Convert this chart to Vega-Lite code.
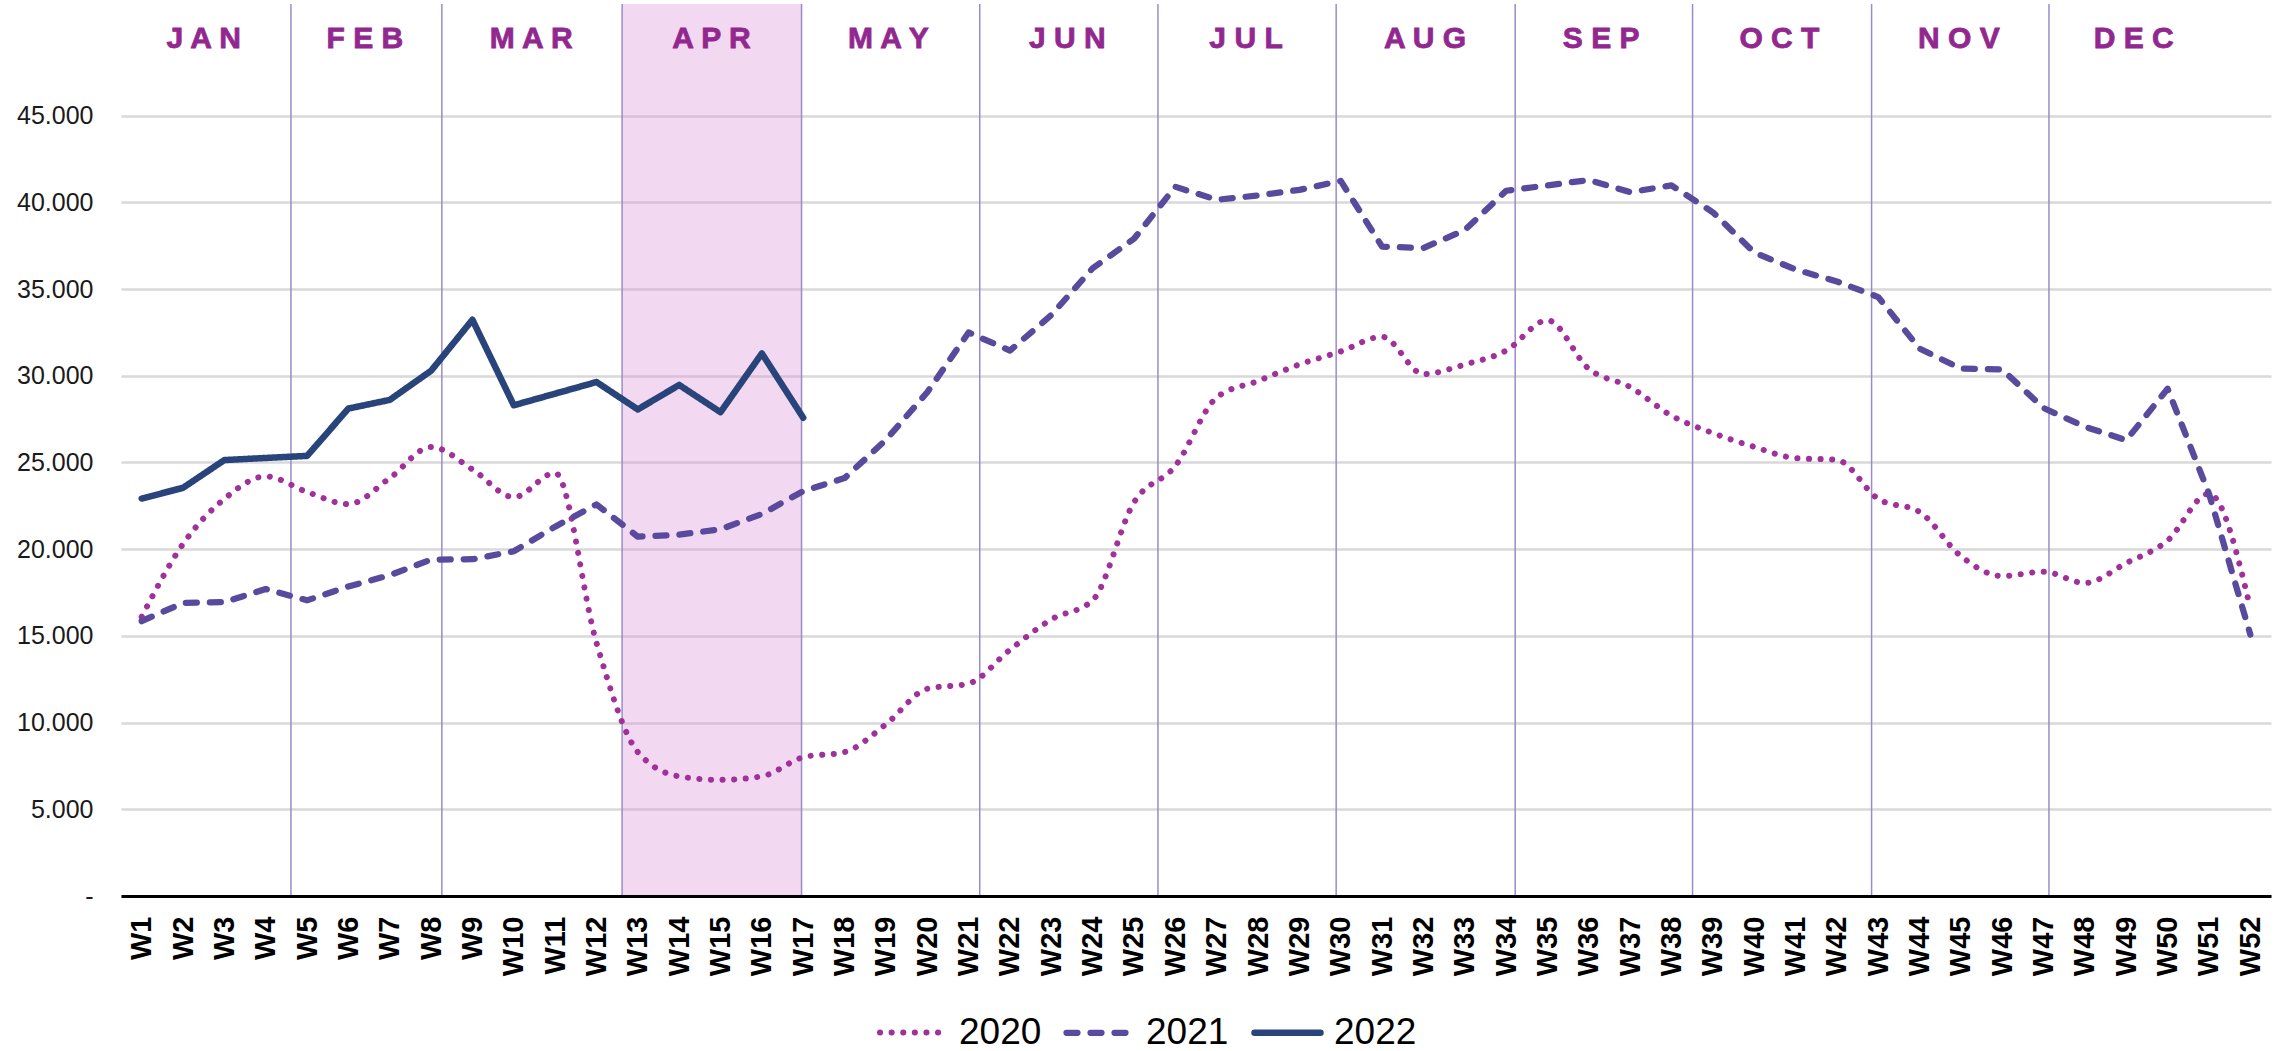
{
  "$schema": "https://vega.github.io/schema/vega-lite/v6.json",
  "width": 2150,
  "height": 892,
  "autosize": {"type": "none"},
  "padding": {"left": 121, "top": 4, "right": 9, "bottom": 155},
  "background": "white",
  "config": {"view": {"stroke": null}, "font": "Liberation Sans"},
  "datasets": {
    "months": [
      {"month": "J A N", "start": 0.5, "end": 4.61, "mid": 2.5, "highlight": false},
      {"month": "F E B", "start": 4.61, "end": 8.26, "mid": 6.4, "highlight": false},
      {"month": "M A R", "start": 8.26, "end": 12.62, "mid": 10.42, "highlight": false},
      {"month": "A P R", "start": 12.62, "end": 16.96, "mid": 14.78, "highlight": true},
      {"month": "M A Y", "start": 16.96, "end": 21.27, "mid": 19.06, "highlight": false},
      {"month": "J U N", "start": 21.27, "end": 25.58, "mid": 23.39, "highlight": false},
      {"month": "J U L", "start": 25.58, "end": 29.89, "mid": 27.71, "highlight": false},
      {"month": "A U G", "start": 29.89, "end": 34.22, "mid": 32.04, "highlight": false},
      {"month": "S E P", "start": 34.22, "end": 38.51, "mid": 36.3, "highlight": false},
      {"month": "O C T", "start": 38.51, "end": 42.84, "mid": 40.61, "highlight": false},
      {"month": "N O V", "start": 42.84, "end": 47.13, "mid": 44.95, "highlight": false},
      {"month": "D E C", "start": 47.13, "end": 52.5, "mid": 49.18, "highlight": false}
    ],
    "weeks": [
      {"week": 1, "year": "2020", "value": 16100},
      {"week": 2, "year": "2020", "value": 20300},
      {"week": 3, "year": "2020", "value": 22900},
      {"week": 4, "year": "2020", "value": 24200},
      {"week": 5, "year": "2020", "value": 23300},
      {"week": 6, "year": "2020", "value": 22600},
      {"week": 7, "year": "2020", "value": 24100},
      {"week": 8, "year": "2020", "value": 25900},
      {"week": 9, "year": "2020", "value": 24600},
      {"week": 10, "year": "2020", "value": 23000},
      {"week": 11, "year": "2020", "value": 24400},
      {"week": 12, "year": "2020", "value": 14600},
      {"week": 13, "year": "2020", "value": 8300},
      {"week": 14, "year": "2020", "value": 6900},
      {"week": 15, "year": "2020", "value": 6700},
      {"week": 16, "year": "2020", "value": 6900},
      {"week": 17, "year": "2020", "value": 8000},
      {"week": 18, "year": "2020", "value": 8300},
      {"week": 19, "year": "2020", "value": 9900},
      {"week": 20, "year": "2020", "value": 11950},
      {"week": 21, "year": "2020", "value": 12250},
      {"week": 22, "year": "2020", "value": 14200},
      {"week": 23, "year": "2020", "value": 15950},
      {"week": 24, "year": "2020", "value": 17050},
      {"week": 25, "year": "2020", "value": 22700},
      {"week": 26, "year": "2020", "value": 24800},
      {"week": 27, "year": "2020", "value": 28750},
      {"week": 28, "year": "2020", "value": 29700},
      {"week": 29, "year": "2020", "value": 30650},
      {"week": 30, "year": "2020", "value": 31400},
      {"week": 31, "year": "2020", "value": 32250},
      {"week": 32, "year": "2020", "value": 30100},
      {"week": 33, "year": "2020", "value": 30650},
      {"week": 34, "year": "2020", "value": 31450},
      {"week": 35, "year": "2020", "value": 33200},
      {"week": 36, "year": "2020", "value": 30400},
      {"week": 37, "year": "2020", "value": 29350},
      {"week": 38, "year": "2020", "value": 27700},
      {"week": 39, "year": "2020", "value": 26700},
      {"week": 40, "year": "2020", "value": 25900},
      {"week": 41, "year": "2020", "value": 25250},
      {"week": 42, "year": "2020", "value": 25150},
      {"week": 43, "year": "2020", "value": 22900},
      {"week": 44, "year": "2020", "value": 22150},
      {"week": 45, "year": "2020", "value": 19600},
      {"week": 46, "year": "2020", "value": 18450},
      {"week": 47, "year": "2020", "value": 18700},
      {"week": 48, "year": "2020", "value": 18050},
      {"week": 49, "year": "2020", "value": 19200},
      {"week": 50, "year": "2020", "value": 20500},
      {"week": 51, "year": "2020", "value": 23200},
      {"week": 52, "year": "2020", "value": 16600},
      {"week": 1, "year": "2021", "value": 15850},
      {"week": 2, "year": "2021", "value": 16900},
      {"week": 3, "year": "2021", "value": 16950},
      {"week": 4, "year": "2021", "value": 17700},
      {"week": 5, "year": "2021", "value": 17050},
      {"week": 6, "year": "2021", "value": 17850},
      {"week": 7, "year": "2021", "value": 18500},
      {"week": 8, "year": "2021", "value": 19400},
      {"week": 9, "year": "2021", "value": 19420},
      {"week": 10, "year": "2021", "value": 19880},
      {"week": 11, "year": "2021", "value": 21300},
      {"week": 12, "year": "2021", "value": 22580},
      {"week": 13, "year": "2021", "value": 20720},
      {"week": 14, "year": "2021", "value": 20840},
      {"week": 15, "year": "2021", "value": 21150},
      {"week": 16, "year": "2021", "value": 22030},
      {"week": 17, "year": "2021", "value": 23350},
      {"week": 18, "year": "2021", "value": 24100},
      {"week": 19, "year": "2021", "value": 26300},
      {"week": 20, "year": "2021", "value": 29050},
      {"week": 21, "year": "2021", "value": 32500},
      {"week": 22, "year": "2021", "value": 31450},
      {"week": 23, "year": "2021", "value": 33500},
      {"week": 24, "year": "2021", "value": 36200},
      {"week": 25, "year": "2021", "value": 37900},
      {"week": 26, "year": "2021", "value": 40900},
      {"week": 27, "year": "2021", "value": 40150},
      {"week": 28, "year": "2021", "value": 40400},
      {"week": 29, "year": "2021", "value": 40720},
      {"week": 30, "year": "2021", "value": 41240},
      {"week": 31, "year": "2021", "value": 37450},
      {"week": 32, "year": "2021", "value": 37370},
      {"week": 33, "year": "2021", "value": 38400},
      {"week": 34, "year": "2021", "value": 40670},
      {"week": 35, "year": "2021", "value": 40980},
      {"week": 36, "year": "2021", "value": 41290},
      {"week": 37, "year": "2021", "value": 40590},
      {"week": 38, "year": "2021", "value": 40980},
      {"week": 39, "year": "2021", "value": 39430},
      {"week": 40, "year": "2021", "value": 37110},
      {"week": 41, "year": "2021", "value": 36130},
      {"week": 42, "year": "2021", "value": 35440},
      {"week": 43, "year": "2021", "value": 34540},
      {"week": 44, "year": "2021", "value": 31570},
      {"week": 45, "year": "2021", "value": 30410},
      {"week": 46, "year": "2021", "value": 30360},
      {"week": 47, "year": "2021", "value": 28140},
      {"week": 48, "year": "2021", "value": 27060},
      {"week": 49, "year": "2021", "value": 26290},
      {"week": 50, "year": "2021", "value": 29250},
      {"week": 51, "year": "2021", "value": 23200},
      {"week": 52, "year": "2021", "value": 15080},
      {"week": 1, "year": "2022", "value": 22920},
      {"week": 2, "year": "2022", "value": 23540},
      {"week": 3, "year": "2022", "value": 25140},
      {"week": 4, "year": "2022", "value": 25260},
      {"week": 5, "year": "2022", "value": 25380},
      {"week": 6, "year": "2022", "value": 28110},
      {"week": 7, "year": "2022", "value": 28610},
      {"week": 8, "year": "2022", "value": 30290},
      {"week": 9, "year": "2022", "value": 33230},
      {"week": 10, "year": "2022", "value": 28300},
      {"week": 11, "year": "2022", "value": 28970},
      {"week": 12, "year": "2022", "value": 29640},
      {"week": 13, "year": "2022", "value": 28060},
      {"week": 14, "year": "2022", "value": 29470},
      {"week": 15, "year": "2022", "value": 27900},
      {"week": 16, "year": "2022", "value": 31290},
      {"week": 17, "year": "2022", "value": 27580}
    ]
  },
  "layer": [
    {
      "data": {"name": "months"},
      "transform": [{"filter": "datum.highlight"}],
      "mark": {"type": "rect", "color": "#D98ED3", "opacity": 0.35},
      "encoding": {
        "x": {"field": "start", "type": "quantitative", "scale": {"domain": [0.5, 52.5], "nice": false, "zero": false}, "axis": {"title": null}},
        "x2": {"field": "end"}
      }
    },
    {
      "data": {"name": "months"},
      "transform": [{"filter": "datum.start > 0.5"}],
      "mark": {"type": "rule", "color": "#9A8CCB", "strokeWidth": 1.5},
      "encoding": {
        "x": {"field": "start", "type": "quantitative", "axis": {"title": null}}
      }
    },
    {
      "data": {"name": "months"},
      "mark": {"type": "text", "color": "#92278F", "fontSize": 30, "fontWeight": "bold", "align": "center", "baseline": "middle", "stroke": "#92278F", "strokeWidth": 0.8},
      "encoding": {
        "x": {"field": "mid", "type": "quantitative", "axis": {"title": null}},
        "y": {"datum": 49400, "type": "quantitative", "axis": {"title": null}},
        "text": {"field": "month"}
      }
    },
    {
      "data": {"name": "weeks"},
      "transform": [{"filter": "datum.year == '2020'"}],
      "mark": {"type": "line", "interpolate": "monotone", "strokeCap": "round", "strokeJoin": "round"},
      "encoding": {
        "x": {"field": "week", "type": "quantitative", "axis": {"title": null}},
        "y": {"field": "value", "type": "quantitative", "axis": {"title": null}},
        "color": {"field": "year", "type": "nominal", "scale": {"domain": ["2020", "2021", "2022"], "range": ["#A0309A", "#594A9E", "#28447A"]}, "legend": {"title": null, "orient": "none", "legendX": 756, "legendY": 992, "direction": "horizontal", "symbolType": "stroke", "symbolSize": 4356, "symbolStrokeWidth": 5.5, "labelFontSize": 37, "labelOffset": 10, "columnPadding": 12, "labelColor": "black", "padding": 0, "encode": {"symbols": {"update": {"strokeCap": {"value": "round"}}}}}},
        "strokeDash": {"field": "year", "type": "nominal", "scale": {"domain": ["2020", "2021", "2022"], "range": [[0.1, 11.5], [11, 13], [1, 0]]}, "legend": {"title": null, "orient": "none", "legendX": 756, "legendY": 992, "direction": "horizontal", "symbolType": "stroke", "symbolSize": 4356, "symbolStrokeWidth": 5.5, "labelFontSize": 37, "labelOffset": 10, "columnPadding": 12, "labelColor": "black", "padding": 0}},
        "strokeWidth": {"field": "year", "type": "nominal", "scale": {"domain": ["2020", "2021", "2022"], "range": [6, 6.5, 6.5]}, "legend": null}
      }
    },
    {
      "data": {"name": "weeks"},
      "transform": [{"filter": "datum.year != '2020'"}],
      "mark": {"type": "line", "interpolate": "linear", "strokeCap": "round", "strokeJoin": "round"},
      "encoding": {
        "x": {
          "field": "week", "type": "quantitative",
          "axis": {
            "title": null, "values": [1,2,3,4,5,6,7,8,9,10,11,12,13,14,15,16,17,18,19,20,21,22,23,24,25,26,27,28,29,30,31,32,33,34,35,36,37,38,39,40,41,42,43,44,45,46,47,48,49,50,51,52],
            "labelExpr": "'W' + datum.value", "labelAngle": -90, "labelFontSize": 29, "labelFontWeight": "bold", "labelColor": "black",
            "grid": false, "ticks": false, "tickSize": 0, "labelPadding": 20, "domainColor": "black", "domainWidth": 3,
            "zindex": 1, "labelOverlap": false, "labelBound": false, "labelFlush": false
          }
        },
        "y": {
          "field": "value", "type": "quantitative",
          "scale": {"domain": [0, 51440], "nice": false},
          "axis": {
            "title": null, "values": [0, 5000, 10000, 15000, 20000, 25000, 30000, 35000, 40000, 45000],
            "labelExpr": "datum.value == 0 ? '-\u00a0\u00a0' : replace(format(datum.value, ','), ',', '.')",
            "domain": false, "ticks": false, "tickSize": 0, "labelPadding": 28, "labelFontSize": 25, "labelColor": "#1a1a1a",
            "grid": true, "gridColor": "#D9D9D9", "gridWidth": 2.5
          }
        },
        "color": {"field": "year", "type": "nominal"},
        "strokeDash": {"field": "year", "type": "nominal"},
        "strokeWidth": {"field": "year", "type": "nominal", "legend": null}
      }
    }
  ]
}
